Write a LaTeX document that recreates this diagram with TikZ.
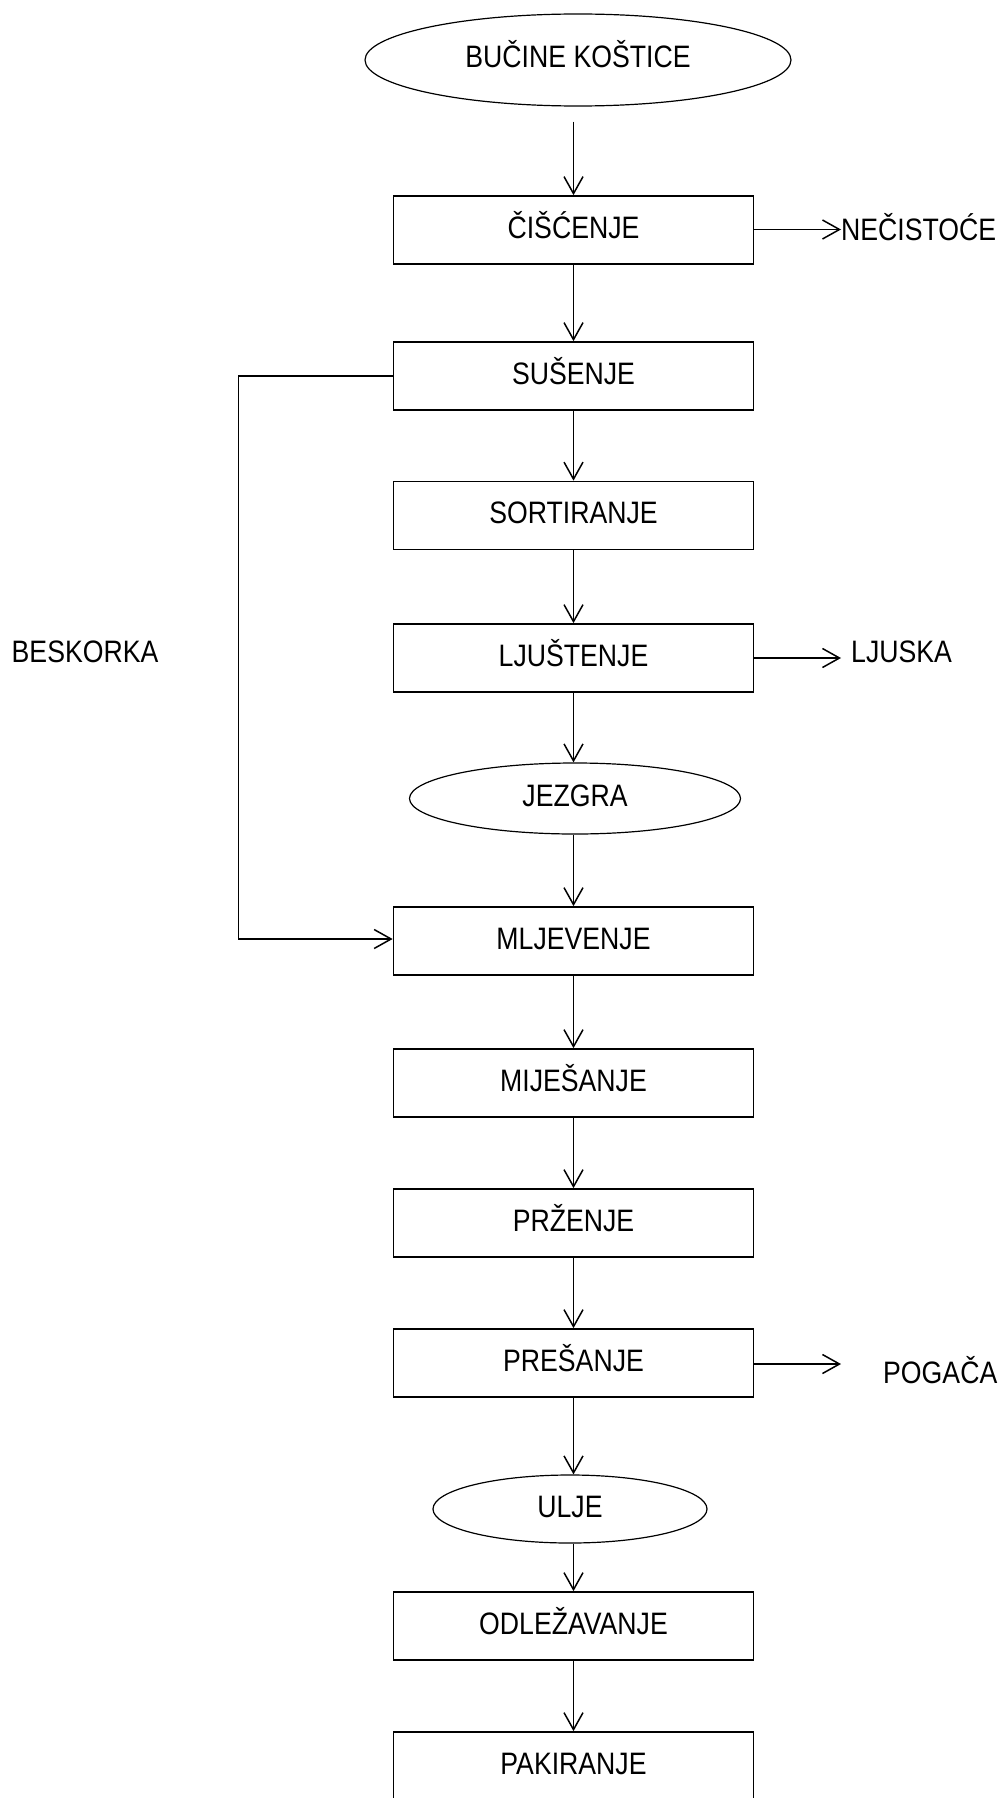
\documentclass[tikz,border=0pt]{standalone}
\usepackage{fontspec}
\setmainfont[FakeStretch=0.86]{Liberation Sans}
\usetikzlibrary{shapes.geometric,arrows.meta}
\begin{document}
\begin{tikzpicture}[x=1pt,y=-1pt,
  every node/.style={font=\fontsize{31}{36}\selectfont},
  box/.style={draw,line width=1.7pt,rectangle,minimum width=360pt,minimum height=68pt,inner sep=0pt,text height=22pt,text depth=6pt},
  oval/.style={draw,line width=1.2pt,ellipse,inner sep=0pt,text height=22pt,text depth=6pt},
  lbl/.style={inner sep=0pt},
  flow/.style={line width=1.5pt,-{Straight Barb[length=17pt,width=19pt,line width=1.5pt]}}]
\useasboundingbox (0,0) rectangle (999,1798);
\node[oval,minimum width=426pt,minimum height=92pt] (e1) at (578,60) {BUČINE KOŠTICE};
\node[box] (b1) at (573.5,230) {ČIŠĆENJE};
\node[box] (b2) at (573.5,376) {SUŠENJE};
\node[box] (b3) at (573.5,515.5) {SORTIRANJE};
\node[box] (b4) at (573.5,658) {LJUŠTENJE};
\node[oval,minimum width=331pt,minimum height=71pt] (e2) at (575,798.5) {JEZGRA};
\node[box] (b5) at (573.5,941) {MLJEVENJE};
\node[box] (b6) at (573.5,1083) {MIJEŠANJE};
\node[box] (b7) at (573.5,1223) {PRŽENJE};
\node[box] (b8) at (573.5,1363) {PREŠANJE};
\node[oval,minimum width=274pt,minimum height=68pt] (e3) at (570,1509) {ULJE};
\node[box] (b9) at (573.5,1626) {ODLEŽAVANJE};
\node[box] (b10) at (573.5,1766) {PAKIRANJE};
\node[lbl,anchor=west] (n1) at (841,227) {NEČISTOĆE};
\node[lbl,anchor=west] (n2) at (851,652) {LJUSKA};
\node[lbl,anchor=west] (n3) at (883,1370) {POGAČA};
\node[lbl,anchor=west] (n4) at (11.5,652) {BESKORKA};
\coordinate (c1) at (841,229.5);
\coordinate (l1) at (841,658);
\coordinate (l2) at (841,1364);
\coordinate (k1) at (238.6,376);
\coordinate (k2) at (238.6,939);
% vertical flow
\draw[flow,shorten <=15pt] (e1.south -| b1.north) -- (b1.north);
\draw[flow] (b1) -- (b2);
\draw[flow] (b2) -- (b3);
\draw[flow] (b3) -- (b4);
\draw[flow] (b4.south) -- (b4.south |- e2.north);
\draw[flow] (b5.north |- e2.south) -- (b5.north);
\draw[flow] (b5) -- (b6);
\draw[flow] (b6) -- (b7);
\draw[flow] (b7) -- (b8);
\draw[flow] (b8.south) -- (b8.south |- e3.north);
\draw[flow] (b9.north |- e3.south) -- (b9.north);
\draw[flow] (b9) -- (b10);
% side outputs
\draw[flow] (b1.east |- c1) -- (c1);
\draw[flow] (b4.east) -- (l1);
\draw[flow] (b8.east |- l2) -- (l2);
% bypass
\draw[flow] (b2.west) -- (k1) -- (k2) -- (b5.west |- k2);
\end{tikzpicture}
\end{document}
